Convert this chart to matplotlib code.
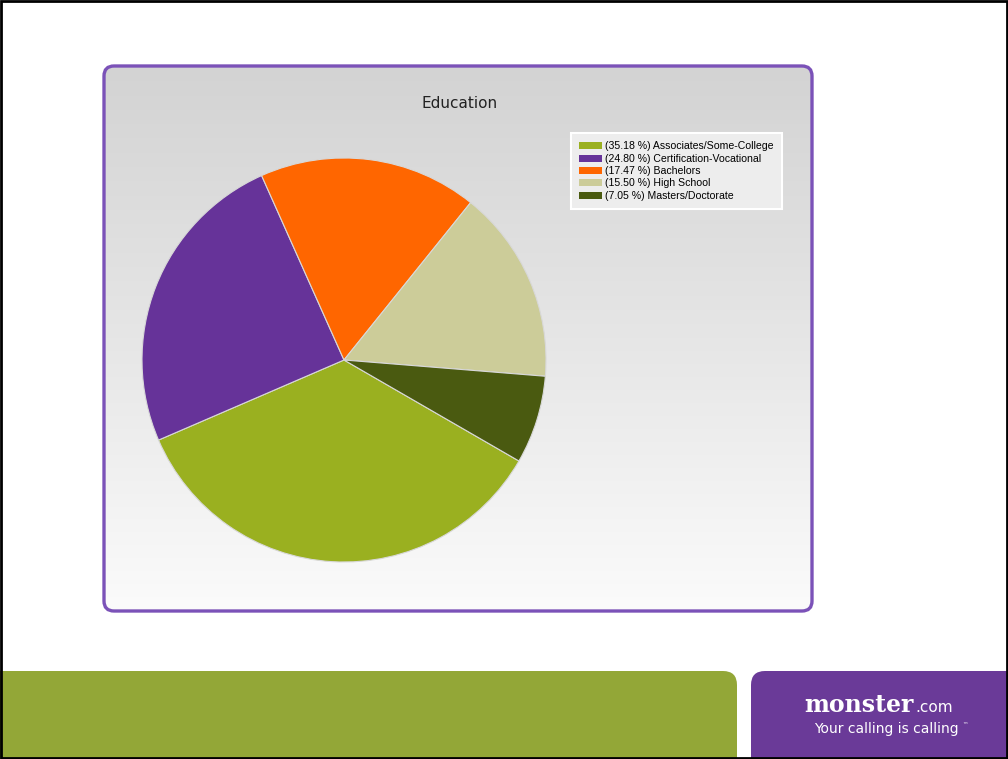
import matplotlib
matplotlib.use("Agg")
import matplotlib.pyplot as plt
import matplotlib.patches as mpatches
from matplotlib.colors import LinearSegmentedColormap
import numpy as np

categories = [
    "Associates/Some-College",
    "Certification-Vocational",
    "Bachelors",
    "High School",
    "Masters/Doctorate",
]
shares = [35.18, 24.80, 17.47, 15.50, 7.05]
slice_colors = ["#9ab020", "#663399", "#ff6600", "#cccc99", "#4a5a10"]

PANEL_PURPLE = "#7b52b8"
BAR_GREEN = "#93a737"
BAR_PURPLE = "#6a3a98"

W, H = 1008, 759
fig = plt.figure(figsize=(W / 100, H / 100), dpi=100)
fig.patch.set_facecolor("white")

# background layer in pixel coordinates
bg = fig.add_axes([0, 0, 1, 1])
bg.set_axis_off()

panel = mpatches.FancyBboxPatch(
    (104, 66), 708, 545,
    boxstyle="round,pad=0,rounding_size=10",
    facecolor="none", edgecolor=PANEL_PURPLE, linewidth=2.4, zorder=3,
)
bg.add_patch(panel)
grad = LinearSegmentedColormap.from_list("panel", ["#d3d3d3", "#e6e6e6", "#fbfbfb"])
img = bg.imshow(
    np.linspace(0, 1, 256).reshape(-1, 1),
    cmap=grad, extent=(104, 812, 611, 66), origin="upper",
    aspect="auto", zorder=1,
)
img.set_clip_path(panel)

bg.add_patch(mpatches.FancyBboxPatch(
    (-20, 671), 757, 120, boxstyle="round,pad=0,rounding_size=14",
    facecolor=BAR_GREEN, edgecolor="none", zorder=2,
))
bg.add_patch(mpatches.FancyBboxPatch(
    (751, 671), 280, 120, boxstyle="round,pad=0,rounding_size=14",
    facecolor=BAR_PURPLE, edgecolor="none", zorder=2,
))
bg.add_patch(mpatches.Rectangle(
    (1, 1), W - 2, H - 2, facecolor="none", edgecolor="black", linewidth=2, zorder=5,
))
bg.set_xlim(0, W)
bg.set_ylim(H, 0)

bg.text(460, 104, "Education", ha="center", va="center", fontsize=11,
        color="#222222", zorder=4)
bg.text(914, 705, "monster", ha="right", va="center", fontsize=17,
        fontweight="bold", color="white", family="DejaVu Serif", zorder=4)
bg.text(915, 707, ".com", ha="left", va="center", fontsize=11,
        color="white", zorder=4)
bg.text(886, 729, "Your calling is calling", ha="center", va="center",
        fontsize=10, color="white", zorder=4)
bg.text(962, 726, "™", ha="left", va="center", fontsize=4, color="white", zorder=4)

# pie
cx, cy, r = 344, 360, 202
ax = fig.add_axes([(cx - r) / W, 1 - (cy + r) / H, 2 * r / W, 2 * r / H])
wedges, _ = ax.pie(
    shares, colors=slice_colors, startangle=330, counterclock=False,
    wedgeprops=dict(edgecolor="#d8d8d8", linewidth=0.8),
)
ax.set_xlim(-1.0, 1.0)
ax.set_ylim(-1.0, 1.0)
ax.set_axis_off()

labels = [f"({s:.2f} %) {c}" for s, c in zip(shares, categories)]
leg = fig.legend(
    wedges, labels, loc="upper left",
    bbox_to_anchor=(571 / W, 1 - 133 / H), borderaxespad=0,
    prop={"family": "Liberation Sans", "size": 7.6},
    handlelength=2.1, handleheight=0.65, handletextpad=0.35,
    labelspacing=0.22, borderpad=0.8, fancybox=False,
    frameon=True, facecolor="#ededed", edgecolor="white", framealpha=1,
)
leg.get_frame().set_linewidth(1.5)
for h in leg.legend_handles:
    h.set_edgecolor("none")

fig.savefig("out.png", dpi=100)
